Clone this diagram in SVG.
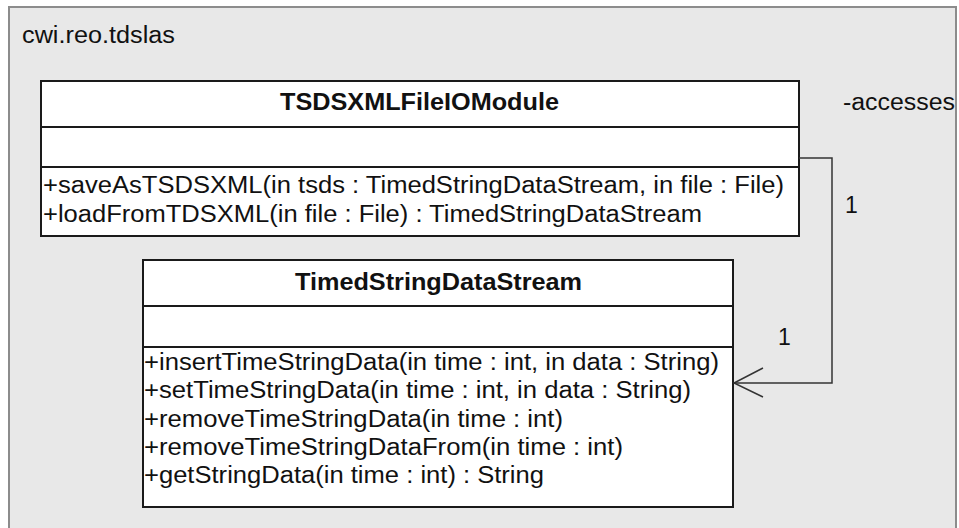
<svg xmlns="http://www.w3.org/2000/svg" width="959" height="528" viewBox="0 0 959 528">
<style>
text{font-family:"Liberation Sans",Arial,sans-serif;font-size:23px;fill:#111}
.b{font-weight:bold;font-size:24px}
.box{fill:#fff;stroke:#1a1a1a;stroke-width:2}
.div{stroke:#1a1a1a;stroke-width:2}
.conn{fill:none;stroke:#333;stroke-width:1.5}
</style>
<rect width="959" height="528" fill="#fff"/>
<g id="package">
<rect x="9" y="7" width="947" height="530" fill="#e8e8e8" stroke="#8c8c8c" stroke-width="2"/>
<text x="22" y="43" textLength="153" lengthAdjust="spacingAndGlyphs">cwi.reo.tdslas</text>
</g>
<g id="TSDSXMLFileIOModule">
<rect class="box" x="41" y="81" width="758" height="155"/>
<line class="div" x1="41" y1="127" x2="799" y2="127"/>
<line class="div" x1="41" y1="167" x2="799" y2="167"/>
<text class="b" x="280" y="110" textLength="279" lengthAdjust="spacingAndGlyphs">TSDSXMLFileIOModule</text>
<text x="43" y="193" textLength="741" lengthAdjust="spacingAndGlyphs">+saveAsTSDSXML(in tsds : TimedStringDataStream, in file : File)</text>
<text x="43" y="222" textLength="659" lengthAdjust="spacingAndGlyphs">+loadFromTDSXML(in file : File) : TimedStringDataStream</text>
</g>
<g id="TimedStringDataStream">
<rect class="box" x="143" y="260" width="590" height="247"/>
<line class="div" x1="143" y1="306" x2="733" y2="306"/>
<line class="div" x1="143" y1="347" x2="733" y2="347"/>
<text class="b" x="295" y="290" textLength="287" lengthAdjust="spacingAndGlyphs">TimedStringDataStream</text>
<text x="144" y="370" textLength="575" lengthAdjust="spacingAndGlyphs">+insertTimeStringData(in time : int, in data : String)</text>
<text x="144" y="398" textLength="547" lengthAdjust="spacingAndGlyphs">+setTimeStringData(in time : int, in data : String)</text>
<text x="144" y="427" textLength="419" lengthAdjust="spacingAndGlyphs">+removeTimeStringData(in time : int)</text>
<text x="144" y="455" textLength="479" lengthAdjust="spacingAndGlyphs">+removeTimeStringDataFrom(in time : int)</text>
<text x="144" y="483" textLength="400" lengthAdjust="spacingAndGlyphs">+getStringData(in time : int) : String</text>
</g>
<g id="connectors">
<polyline class="conn" points="799,158 832,158 832,383 734,383"/>
<polyline class="conn" points="763,368 734,383 763,397"/>
<text x="843" y="110" textLength="112" lengthAdjust="spacingAndGlyphs">-accesses</text>
<text x="845" y="213">1</text>
<text x="778" y="345">1</text>
</g>
</svg>
